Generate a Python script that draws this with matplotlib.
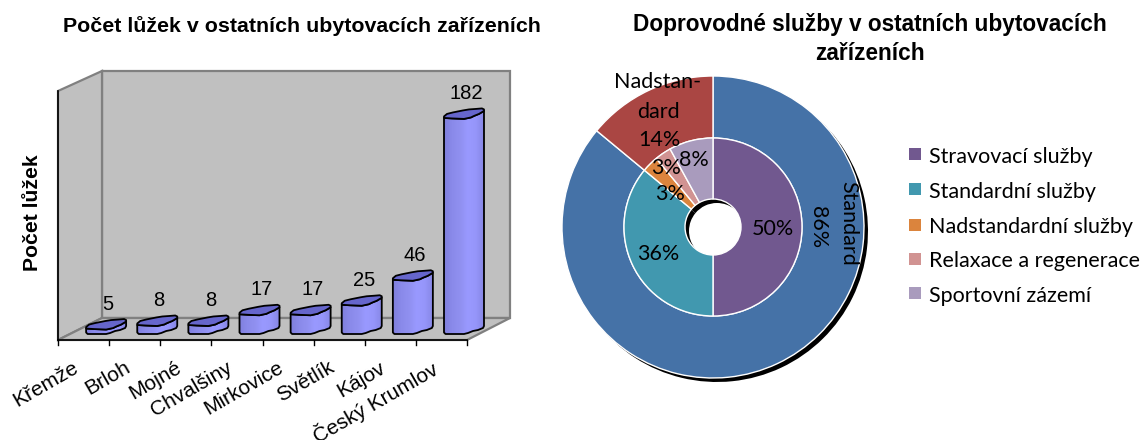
import matplotlib
matplotlib.use("Agg")
import matplotlib.pyplot as plt
import numpy as np
from matplotlib.colors import LinearSegmentedColormap
from matplotlib.patches import Polygon, Rectangle

W, H = 1144, 440

obce = ["Křemže", "Brloh", "Mojné", "Chvalšiny", "Mirkovice", "Světlík", "Kájov", "Český Krumlov"]
luzka = [5, 8, 8, 17, 17, 25, 46, 182]

vnejsi_nazvy = ["Standard", "Nadstan-\ndard"]
vnejsi_hodnoty = [86, 14]
vnejsi_barvy = ["#4572A7", "#AA4643"]

sluzby = ["Stravovací služby", "Standardní služby", "Nadstandardní služby",
          "Relaxace a regenerace", "Sportovní zázemí"]
sluzby_hodnoty = [50, 36, 3, 3, 8]
sluzby_barvy = ["#71588F", "#4198AF", "#DB843D", "#D19392", "#A99BBD"]

ARIAL = "Liberation Sans"
CALIBRI = "Lato"
VELIKOST = 15.5

fig = plt.figure(figsize=(W / 100, H / 100), dpi=100)

#background axes in pixels, for the walls and the loose text
bg = fig.add_axes([0, 0, 1, 1])
bg.set_xlim(0, W)
bg.set_ylim(H, 0)
bg.axis("off")

bg.text(302, 26, "Počet lůžek v ostatních ubytovacích zařízeních", family=ARIAL,
        weight="bold", fontsize=15.4, ha="center", va="center")
bg.text(870, 25, "Doprovodné služby v ostatních ubytovacích", family=ARIAL,
        weight="bold", fontsize=16.3, ha="center", va="center")
bg.text(870, 54, "zařízeních", family=ARIAL,
        weight="bold", fontsize=16.3, ha="center", va="center")
bg.text(32, 213, "Počet lůžek", family=ARIAL, weight="bold", fontsize=15.2,
        rotation=90, ha="center", va="center")

#walls of the 3D box
sediva = "#C0C0C0"
hrana = "#808080"
bg.add_patch(Polygon([(102, 71), (510, 71), (510, 318), (102, 318)], fc=sediva, ec=hrana, lw=1.6))
bg.add_patch(Polygon([(58, 91), (102, 71), (102, 318), (58, 340)], fc=sediva, ec=hrana, lw=1.6))
bg.add_patch(Polygon([(58, 340), (102, 318), (510, 318), (467, 340)], fc=sediva, ec=hrana, lw=1.6))
bg.plot([58, 58], [91, 340], color="black", lw=1.2)
bg.plot([58, 467], [340, 340], color="black", lw=1.2)

#bars, value axis has 0 at pixel y=334, axes run on to the back wall's right edge
x0, x1, xkonec, ytop, ybot = 58, 467, 510, 71, 340
ax = fig.add_axes([x0 / W, 1 - ybot / H, (xkonec - x0) / W, (ybot - ytop) / H])
ax.patch.set_alpha(0)
px_na_hodnotu = 1.19
ax.axis("off")
sx = (x1 - x0) / len(obce)

gradient = LinearSegmentedColormap.from_list("valec", ["#7F7FDD", "#8A8AEA", "#9090F0", "#9999FF", "#9696FA", "#8787E6"])

#outline of the wavy cylinder, pixel offsets from the front-left corner
horni_zadni = [(0, 1), (3, 3.5), (9, 5), (14, 6), (19, 7), (25, 8), (32, 8.5), (38, 9), (40, 8)]
horni_predni = [(40, 6.5), (35, 3.5), (30, 1.5), (27, 0), (20, -1.5), (8, -1), (0, -0.5)]
spodni = [(0, 1.5), (1.5, 0), (20, 0), (24, 1), (29, 3), (34, 4), (39, 6), (40, 8)]

def na_data(i, hodnota, body):
    return [(i + 0.05 + dx / sx, hodnota + dy / px_na_hodnotu) for dx, dy in body]

for i, (obec, v) in enumerate(zip(obce, luzka)):
    telo = na_data(i, 0, spodni) + na_data(i, v, horni_predni)
    p = Polygon(telo, fc="none", ec="black", lw=1.3, zorder=3, joinstyle="round", clip_on=False)
    ax.add_patch(p)
    im = ax.imshow(np.linspace(0, 1, 64).reshape(1, -1), cmap=gradient, aspect="auto", zorder=2,
                   extent=(i + 0.05, i + 0.05 + 40 / sx, 0, v + 9 / px_na_hodnotu))
    im.set_clip_path(p)
    ax.add_patch(Polygon(na_data(i, v, horni_zadni + horni_predni), fc="#6666CC", ec="black",
                         lw=1.3, zorder=4, joinstyle="round", clip_on=False))
    ax.annotate(str(v), (i + 0.05 + 22 / sx, v), xytext=(0, 24), textcoords="offset pixels",
                family=ARIAL, fontsize=14.5, ha="center", va="center", zorder=5)

ax.set_xlim(-0.5, -0.5 + (xkonec - x0) / sx)
ax.set_ylim(-(ybot - 334) / px_na_hodnotu, (334 - ytop) / px_na_hodnotu)

#category ticks and rotated labels
for i in range(len(obce) + 1):
    x = x0 + i * sx
    bg.plot([x, x], [340, 345], color="black", lw=1)
for i, obec in enumerate(obce):
    bg.text(x0 + (i + 0.5) * sx - 11, 358, obec, family=ARIAL, fontsize=15, rotation=30,
            rotation_mode="anchor", ha="right", va="top", clip_on=False)

#doughnut
cx, cy, polomer = 713, 227, 151
rozsah = 1.25
strana = 2 * rozsah * polomer
ax2 = fig.add_axes([(cx - strana / 2) / W, 1 - (cy + strana / 2) / H, strana / W, strana / H])
ax2.patch.set_alpha(0)
stin = 4 / polomer
r_vnitrni = 89 / polomer
r_dira = 28 / polomer

ax2.pie(vnejsi_hodnoty, radius=1, center=(stin, -stin), colors=["black"] * 2, startangle=90,
        counterclock=False, wedgeprops=dict(width=1 - r_dira))
ax2.pie(vnejsi_hodnoty, radius=1, colors=vnejsi_barvy, startangle=90, counterclock=False,
        wedgeprops=dict(width=1 - r_vnitrni, edgecolor="white", linewidth=1))
ax2.pie(sluzby_hodnoty, radius=r_vnitrni, colors=sluzby_barvy, startangle=90, counterclock=False,
        wedgeprops=dict(width=r_vnitrni - r_dira, edgecolor="white", linewidth=1))
ax2.set_xlim(-rozsah, rozsah)
ax2.set_ylim(-rozsah, rozsah)

txt = dict(family=CALIBRI, fontsize=VELIKOST, ha="center", va="center", zorder=10)
bg.set_zorder(0)
ax.set_zorder(1)
ax2.set_zorder(2)

#labels go on top of the doughnut, so they get their own layer
top = fig.add_axes([0, 0, 1, 1], zorder=3)
top.set_xlim(0, W)
top.set_ylim(H, 0)
top.axis("off")

top.text(848, 223, vnejsi_nazvy[0], rotation=270, **txt)
top.text(818, 227, f"{vnejsi_hodnoty[0]}%", rotation=270, **txt)
casti = vnejsi_nazvy[1].split("\n")
top.text(658, 82, casti[0], **txt)
top.text(658, 112, casti[1], **txt)
top.text(659, 140, f"{vnejsi_hodnoty[1]}%", **txt)

popisky_xy = [(773, 229), (658, 254), (670, 194), (666, 168), (694, 160)]
for (x, y), v in zip(popisky_xy, sluzby_hodnoty):
    top.text(x, y, f"{v}%", **txt)

ctverec_y = [154, 189, 225, 259, 293]
text_y = [163, 198, 233, 267, 302]
for nazev, barva, y, yt in zip(sluzby, sluzby_barvy, ctverec_y, text_y):
    top.add_patch(Rectangle((909, y - 6), 12, 12, fc=barva, ec="none"))
    top.text(929, yt, nazev, family=CALIBRI, fontsize=VELIKOST, ha="left", va="baseline")

fig.savefig("out.png", dpi=100)
